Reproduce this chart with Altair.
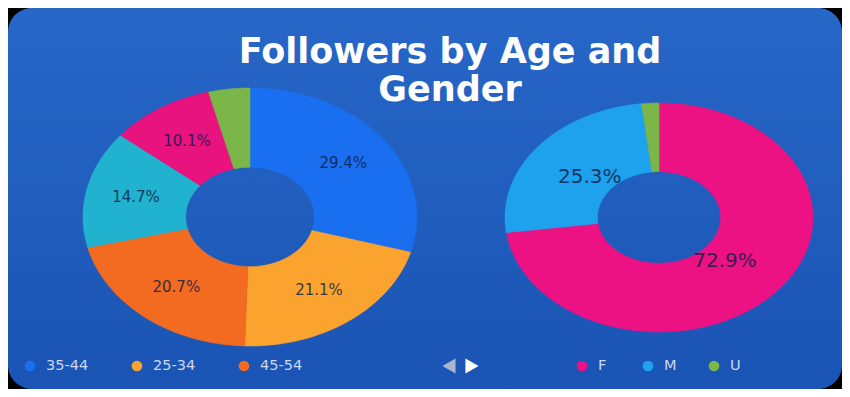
import altair as alt
import pandas as pd

W, H = 834, 381

# ---- data ----
age_labels = ["35-44", "25-34", "45-54", "18-24", "55-64", "65+"]
age_values = [29.4, 21.1, 20.7, 14.7, 10.1, 4.0]
age_colors = ["#1a6ef0", "#fba32f", "#f36b21", "#21b2cf", "#e8137f", "#7ab648"]

gender_labels = ["F", "M", "U"]
gender_values = [72.9, 25.3, 1.8]
gender_colors = ["#ec1284", "#1ea2ee", "#7ab648"]

legend_age = ["35-44", "25-34", "45-54"]
legend_age_colors = age_colors[:3]

title_text = ["Followers by Age and", "Gender"]

xs = alt.Scale(domain=[0, W], zero=False, nice=False)
ys = alt.Scale(domain=[0, H], zero=False, nice=False, reverse=True)

N = 60


def donut(labels, values, colors, cx, cy, rx, ry, ri, rl, fs):
    df = pd.DataFrame({"label": labels, "value": values, "color": colors,
                       "idx": list(range(len(labels)))})
    base = (
        alt.Chart(df)
        .transform_window(cum="sum(value)", sort=[alt.SortField("idx")], frame=[None, 0])
        .transform_joinaggregate(total="sum(value)")
        .transform_calculate(
            a0="2*PI*(datum.cum - datum.value)/datum.total",
            a1="2*PI*datum.cum/datum.total",
        )
    )
    ring = (
        base.transform_calculate(step=f"sequence(0, {2 * N + 2})")
        .transform_flatten(["step"])
        .transform_calculate(
            ang=f"datum.step <= {N} ? datum.a0 + (datum.a1 - datum.a0) * datum.step / {N} "
                f": datum.a1 - (datum.a1 - datum.a0) * (datum.step - {N + 1}) / {N}",
            r=f"datum.step <= {N} ? 1 : {ri}",
        )
        .transform_calculate(
            px=f"{cx} + {rx} * datum.r * sin(datum.ang)",
            py=f"{cy} - {ry} * datum.r * cos(datum.ang)",
        )
        .mark_line(filled=True, interpolate="linear-closed", strokeWidth=0.6)
        .encode(
            x=alt.X("px:Q", scale=xs, axis=None),
            y=alt.Y("py:Q", scale=ys, axis=None),
            order=alt.Order("step:Q"),
            detail="label:N",
            color=alt.Color("color:N", scale=None),
            stroke=alt.Stroke("color:N", scale=None),
        )
    )
    text = (
        base.transform_filter("datum.value >= 5")
        .transform_calculate(
            lx=f"{cx} + {rx} * {rl} * sin((datum.a0 + datum.a1) / 2)",
            ly=f"{cy} - {ry} * {rl} * cos((datum.a0 + datum.a1) / 2)",
            txt="format(datum.value, '.1f') + '%'",
        )
        .mark_text(fontSize=fs, font="DejaVu Sans", color="#0a1c45", opacity=0.8,
                   align="center", baseline="middle")
        .encode(x=alt.X("lx:Q", scale=xs, axis=None),
                y=alt.Y("ly:Q", scale=ys, axis=None),
                text="txt:N")
    )
    return ring + text


one = pd.DataFrame({"k": [0]})

bg = alt.Chart(one).mark_rect(
    cornerRadius=24,
    color=alt.Gradient(
        gradient="linear",
        stops=[alt.GradientStop(color="#2767c7", offset=0),
               alt.GradientStop(color="#1a54b4", offset=1)],
        x1=0, x2=0, y1=0, y2=1,
    ),
).encode(x=alt.value(0), x2=alt.value(W), y=alt.value(0), y2=alt.value(H))

title = alt.Chart(one).mark_text(
    text=title_text, font="DejaVu Sans", fontWeight="bold", fontSize=35,
    color="white", align="center", baseline="alphabetic", lineHeight=38,
).encode(x=alt.value(442), y=alt.value(55))

left = donut(age_labels, age_values, age_colors, 242, 209, 167, 129, 0.385, 0.7, 15)
right = donut(gender_labels, gender_values, gender_colors, 651, 209.5, 154, 114.5, 0.4, 0.57, 20)

# legends
lg1 = pd.DataFrame({"label": legend_age, "color": legend_age_colors, "i": [0, 1, 2]})
lg2 = pd.DataFrame({"label": gender_labels, "color": gender_colors, "i": [0, 1, 2]})


def legend(df, x0, step):
    b = alt.Chart(df).transform_calculate(
        dx=f"{x0} + {step} * datum.i", tx=f"{x0} + {step} * datum.i + 16", yy="358")
    dots = b.mark_point(shape="circle", filled=True, size=115, opacity=1).encode(
        x=alt.X("dx:Q", scale=xs, axis=None), y=alt.Y("yy:Q", scale=ys, axis=None),
        color=alt.Color("color:N", scale=None))
    labs = b.mark_text(align="left", baseline="middle", font="DejaVu Sans", fontSize=14.5,
                       color="#cdd8ee").encode(
        x=alt.X("tx:Q", scale=xs, axis=None), y=alt.Y("yy:Q", scale=ys, axis=None),
        text="label:N")
    return dots + labs


arrows_df = pd.DataFrame({"shape": ["triangle-left", "triangle-right"],
                          "col": ["#aab6cc", "#ffffff"], "j": [0, 1]})
arrows = alt.Chart(arrows_df).transform_calculate(
    ax="441 + 23 * datum.j", ay="358").mark_point(filled=True, size=230, opacity=1).encode(
    x=alt.X("ax:Q", scale=xs, axis=None), y=alt.Y("ay:Q", scale=ys, axis=None),
    shape=alt.Shape("shape:N", scale=None), color=alt.Color("col:N", scale=None))

chart = alt.layer(
    bg, left, right, title, legend(lg1, 22, 107), legend(lg2, 574, 66), arrows
).properties(
    width=W, height=H, background="black", padding=0,
    autosize=alt.AutoSizeParams(type="fit", contains="padding"),
).configure_view(stroke=None)

chart.save("out.html", embed_options={"renderer": "svg", "actions": False})
